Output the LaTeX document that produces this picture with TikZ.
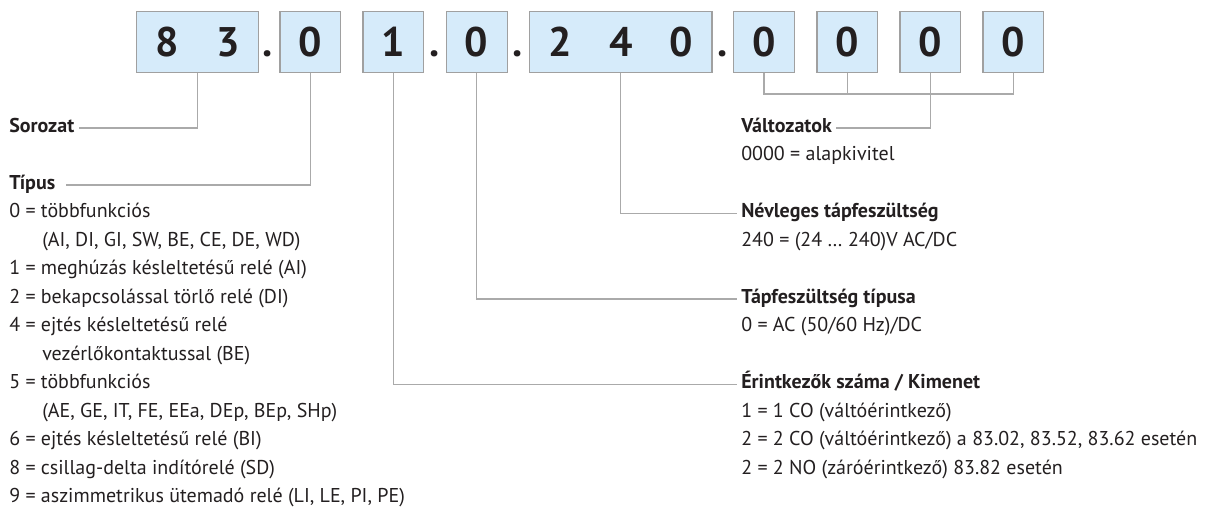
\documentclass[tikz,border=0pt]{standalone}
\usepackage{fontspec}
\setmainfont{PT Sans}
\usepackage{tikz}
\definecolor{cellblue}{RGB}{214,235,250}
\definecolor{cellgray}{RGB}{160,160,160}
\definecolor{linegray}{RGB}{170,170,170}
\definecolor{ink}{RGB}{35,31,32}
\newcommand{\cellnum}[1]{\makebox[45.6pt]{#1}}

\begin{document}
\begin{tikzpicture}[x=0.75pt,y=-0.75pt,
  cell/.style={draw=cellgray,fill=cellblue,line width=0.9pt,minimum height=45.6pt,inner sep=0pt,anchor=north west,text=ink,font=\fontsize{31}{32}\selectfont\bfseries},
  sep/.style={anchor=base,inner sep=0pt,text=ink,font=\fontsize{31}{32}\selectfont\bfseries},
  conn/.style={draw=linegray,line width=0.8pt},
  head/.style={anchor=west,inner sep=3pt,text height=1.6ex,text depth=.4ex,text=ink,font=\fontsize{15}{17}\selectfont\bfseries},
  item/.style={anchor=west,inner sep=3pt,text height=1.6ex,text depth=.4ex,text=ink,font=\fontsize{15}{17}\selectfont}]
\useasboundingbox (0,0) rectangle (1206,511);

\node[cell] (b83) at (136,11) {\cellnum{8}\cellnum{3}};
\node[sep] (d1) at (268,56) {.};
\node[cell] (b0) at (279.3,11) {\cellnum{0}};
\node[cell] (b1) at (362.3,11) {\cellnum{1}};
\node[sep] (d2) at (434.5,56) {.};
\node[cell] (b0b) at (445.7,11) {\cellnum{0}};
\node[sep] (d3) at (517.8,56) {.};
\node[cell] (b240) at (529,11) {\cellnum{2}\cellnum{4}\cellnum{0}};
\node[sep] (d4) at (722.5,56) {.};
\node[cell] (v1) at (733,11) {\cellnum{0}};
\node[cell] (v2) at (816.3,11) {\cellnum{0}};
\node[cell] (v3) at (899.3,11) {\cellnum{0}};
\node[cell] (v4) at (982.3,11) {\cellnum{0}};

\node[head] (sorozat) at (5,128) {Sorozat};
\node[head] (tipus) at (5,185) {Típus};
\node[item] (t0) at (5,213.5) {0 = többfunkciós};
\node[item] (t0b) at (38,242) {(AI, DI, GI, SW, BE, CE, DE, WD)};
\node[item] (t1) at (5,270.5) {1 = meghúzás késleltetésű relé (AI)};
\node[item] (t2) at (5,299) {2 = bekapcsolással törlő relé (DI)};
\node[item] (t4) at (5,327.5) {4 = ejtés késleltetésű relé};
\node[item] (t4b) at (38,356) {vezérlőkontaktussal (BE)};
\node[item] (t5) at (5,384.5) {5 = többfunkciós};
\node[item] (t5b) at (38,413) {(AE, GE, IT, FE, EEa, DEp, BEp, SHp)};
\node[item] (t6) at (5,441.5) {6 = ejtés késleltetésű relé (BI)};
\node[item] (t8) at (5,470) {8 = csillag-delta indítórelé (SD)};
\node[item] (t9) at (5,498.5) {9 = aszimmetrikus ütemadó relé (LI, LE, PI, PE)};

\node[head] (valt) at (737,128) {Változatok};
\node[item] (valt0) at (737,156.5) {0000 = alapkivitel};
\node[head] (nevl) at (737,213.5) {Névleges tápfeszültség};
\node[item] (nevl0) at (737,242) {240 = (24 … 240)V AC/DC};
\node[head] (taptip) at (737,299) {Tápfeszültség típusa};
\node[item] (taptip0) at (737,327.5) {0 = AC (50/60 Hz)/DC};
\node[head] (erint) at (737,384.5) {Érintkezők száma / Kimenet};
\node[item] (erint1) at (737,413) {1 = 1 CO (váltóérintkező)};
\node[item] (erint2) at (737,441.5) {2 = 2 CO (váltóérintkező) a 83.02, 83.52, 83.62 esetén};
\node[item] (erint3) at (737,470) {2 = 2 NO (záróérintkező) 83.82 esetén};

\coordinate (brk) at (0,94);
\draw[conn] (b83.south) |- (sorozat.east);
\draw[conn] (b0.south) |- ([xshift=5pt]tipus.east);
\draw[conn] (b1.south) |- (erint.west);
\draw[conn] (b0b.south) |- (taptip.west);
\draw[conn] (b240.south) |- (nevl.west);
\draw[conn] (v1.south) -- (v1.south |- brk) -| (v4.south);
\draw[conn] (v2.south) -- (v2.south |- brk);
\draw[conn] (v3.south) |- (valt.east);
\end{tikzpicture}
\end{document}
